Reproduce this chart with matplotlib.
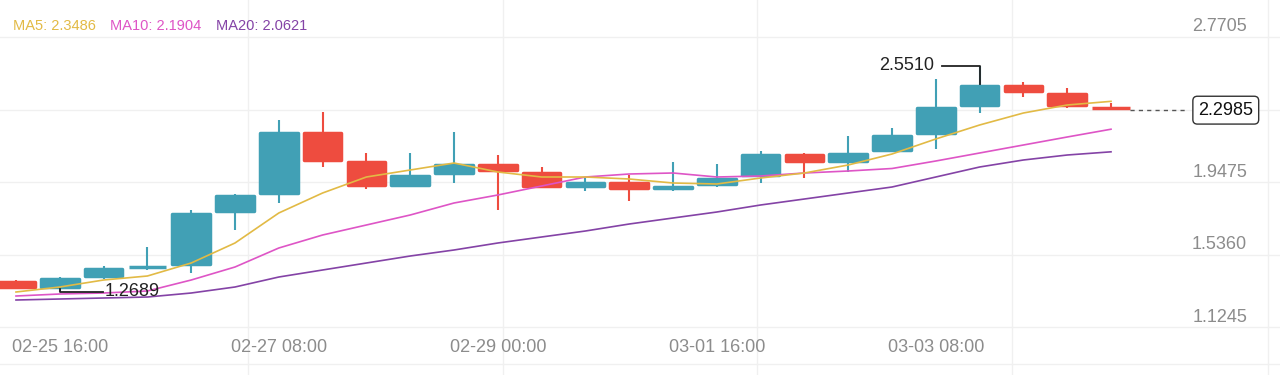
import matplotlib
matplotlib.use("Agg")
import matplotlib.pyplot as plt
from matplotlib.patches import Rectangle

plt.rcParams['font.family'] = ['Liberation Sans', 'DejaVu Sans']

# ---------------- data ----------------
opens  = [1.3347, 1.2835, 1.3460, 1.3970, 1.4141, 1.7149, 1.8170, 2.1803, 2.0157, 1.8625,
          1.9305, 1.9986, 1.9532, 1.8568, 1.8965, 1.8454, 1.8681, 1.9192, 2.0554, 1.9986,
          2.0611, 2.1575, 2.3165, 2.4470, 2.4016, 2.3165]
highs  = [1.3347, 1.3516, 1.4140, 1.5219, 1.7320, 1.8227, 2.2427, 2.2881, 2.0554, 2.0554,
          2.1746, 2.0440, 1.9760, 1.9190, 1.9306, 2.0043, 1.9930, 2.0668, 2.0554, 2.1519,
          2.1973, 2.4754, 2.5510, 2.4584, 2.4243, 2.3400]
lows   = [1.2835, 1.2689, 1.3400, 1.3910, 1.3743, 1.6184, 1.7716, 1.9759, 1.8510, 1.8625,
          1.8851, 1.7319, 1.8568, 1.8398, 1.7830, 1.8398, 1.8620, 1.8851, 1.9135, 1.9475,
          2.0611, 2.0781, 2.2825, 2.3732, 2.3108, 2.2985]
closes = [1.2835, 1.3516, 1.4084, 1.4200, 1.7205, 1.8227, 2.1803, 2.0043, 1.8625, 1.9362,
          1.9986, 1.9475, 1.8568, 1.8965, 1.8454, 1.8738, 1.9192, 2.0554, 1.9986, 2.0611,
          2.1632, 2.3221, 2.4470, 2.3959, 2.3165, 2.2985]

ma5  = [1.2665, 1.2949, 1.3346, 1.3573, 1.4311, 1.5446, 1.7149, 1.8284, 1.9192, 1.9589,
        1.9986, 1.9476, 1.9192, 1.9192, 1.9078, 1.8851, 1.8795, 1.9135, 1.9419, 1.9873,
        2.0497, 2.1349, 2.2143, 2.2824, 2.3278, 2.3486]
ma10 = [1.2438, 1.2552, 1.2608, 1.2722, 1.3346, 1.4084, 1.5162, 1.5900, 1.6468, 1.7035,
        1.7716, 1.8170, 1.8681, 1.9192, 1.9362, 1.9419, 1.9192, 1.9249, 1.9419, 1.9532,
        1.9674, 2.0100, 2.0554, 2.1008, 2.1462, 2.1904]
ma20 = [1.2211, 1.2268, 1.2325, 1.2381, 1.2608, 1.2949, 1.3516, 1.3914, 1.4311, 1.4708,
        1.5049, 1.5446, 1.5787, 1.6127, 1.6524, 1.6865, 1.7205, 1.7603, 1.7943, 1.8284,
        1.8624, 1.9192, 1.9759, 2.0157, 2.0440, 2.0621]

time_labels = ["02-25 16:00", "02-27 08:00", "02-29 00:00", "03-01 16:00", "03-03 08:00"]
time_label_idx = [1, 6, 11, 16, 21]
y_ticks = [2.7705, 2.3590, 1.9475, 1.5360, 1.1245]
legend_labels = ["MA5: 2.3486", "MA10: 2.1904", "MA20: 2.0621"]
last_price = 2.2985
hi_idx, hi_val = 22, 2.5510
lo_idx, lo_val = 1, 1.2689

# ---------------- style ----------------
UP = "#41A0B5"
DOWN = "#EE4C3F"
C_MA5 = "#E2BA45"
C_MA10 = "#DE55C6"
C_MA20 = "#8443A6"
GRID = "#F0F0F0"
LABEL = "#8C8C8C"

fig = plt.figure(figsize=(12.8, 3.75), dpi=100)
ax = fig.add_axes([0, 0, 1, 1])
ax.set_xlim(-0.365, 28.858)
ax.set_ylim(0.7955, 2.9237)
ax.axis('off')

# grid
for t in y_ticks:
    ax.axhline(t - 0.0568, color=GRID, lw=1.0, zorder=0)
for gx in [5.297, 11.12, 16.92, 22.74]:
    ax.axvline(gx, color=GRID, lw=1.0, zorder=0)
ax.plot([0, 1], [1 - 364 / 375] * 2, transform=ax.transAxes, color=GRID, lw=1.0, zorder=0)
ax.plot([1268 / 1280] * 2, [0, 1], transform=ax.transAxes, color=GRID, lw=1.0, zorder=0)

# candles (thick round-joined edge gives rounded corners)
bw = 0.856
edge = 0.0199
for i, (o, h, l, c) in enumerate(zip(opens, highs, lows, closes)):
    col = UP if c >= o else DOWN
    ax.plot([i, i], [l, h], color=col, lw=1.5, solid_capstyle='butt', zorder=2)
    bottom = min(o, c) + edge / 2
    height = max(abs(c - o) - edge, 0.001)
    ax.add_patch(Rectangle((i - bw / 2, bottom), bw, height, facecolor=col,
                           edgecolor=col, lw=2.5, joinstyle='round', zorder=3))

x = list(range(len(closes)))
ax.plot(x, ma20, color=C_MA20, lw=1.2, zorder=4)
ax.plot(x, ma10, color=C_MA10, lw=1.2, zorder=4)
ax.plot(x, ma5, color=C_MA5, lw=1.2, zorder=4)

# high / low markers
body_top_hi = max(opens[hi_idx], closes[hi_idx])
ax.plot([hi_idx - 0.85, hi_idx, hi_idx], [hi_val, hi_val, body_top_hi],
        color="#222222", lw=1.3, zorder=5)
ax.text(hi_idx - 1.03, hi_val, f"{hi_val:.4f}", ha='right', va='center',
        fontsize=13, color="#222222", zorder=6)
body_bot_lo = min(opens[lo_idx], closes[lo_idx])
ax.plot([lo_idx, lo_idx, lo_idx + 0.98], [body_bot_lo, lo_val, lo_val],
        color="#222222", lw=1.3, zorder=5)
ax.text(lo_idx + 1.03, lo_val, f"{lo_val:.4f}", ha='left', va='center',
        fontsize=13, color="#222222", zorder=6)

# last price line + box
n = len(closes)
ax.plot([n - 1 + bw / 2, 26.75], [last_price, last_price], color="#555555",
        lw=1.0, ls=(0, (3, 3)), zorder=5)
ax.text(27.62, last_price, f"{last_price:.4f}", ha='center', va='center',
        fontsize=13, color="#111111", zorder=7,
        bbox=dict(boxstyle="round,pad=0.3,rounding_size=0.25", fc="white",
                  ec="#333333", lw=1.0))

# y labels
for t in y_ticks:
    if abs(t - last_price) < 0.12:
        continue
    ax.text(1247 / 1280, t, f"{t:.4f}", transform=ax.get_yaxis_transform(),
            ha='right', va='center', fontsize=13, color=LABEL)

# time labels
for idx, lab in zip(time_label_idx, time_labels):
    ax.text(idx, 1 - 347 / 375, lab, transform=ax.get_xaxis_transform(),
            ha='center', va='center', fontsize=13, color=LABEL)

# legend
for xp, lab, col in zip([13, 110, 216], legend_labels, [C_MA5, C_MA10, C_MA20]):
    ax.text(xp / 1280, 1 - 26 / 375, lab, transform=ax.transAxes, ha='left',
            va='center', fontsize=10.5, color=col)

fig.savefig("out.png", dpi=100)
